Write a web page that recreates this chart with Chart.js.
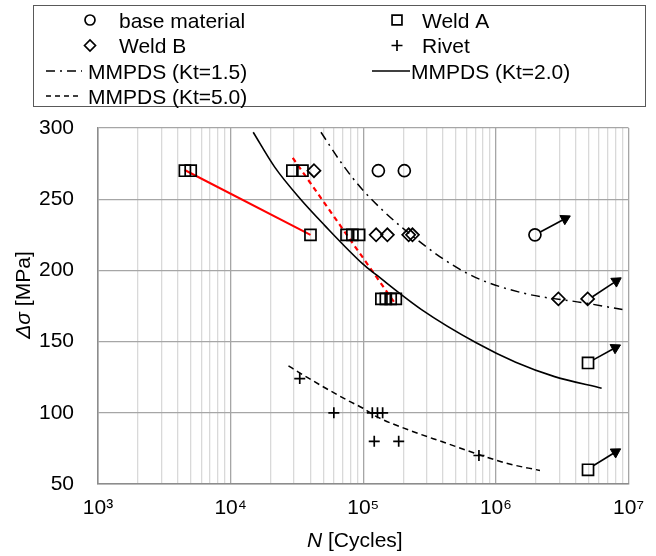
<!DOCTYPE html>
<html>
<head>
<meta charset="utf-8">
<title>S-N data</title>
<script src="https://cdn.jsdelivr.net/npm/chart.js@4"></script>
<style>
  body { margin: 0; background: #fff; }
  #wrap { width: 656px; height: 556px; position: relative; }
</style>
</head>
<body>
<div id="wrap"><canvas id="snChart" width="656" height="556"></canvas></div>
<script>
// test data, N in cycles, stress range in MPa
const baseN = [130000, 204000, 1970000];
const baseS = [270, 270, 225];

const weldAN = [4520, 5000, 29200, 34800, 40000, 74800, 82800, 93100, 137000, 148000, 161000, 176000, 4950000, 4950000];
const weldAS = [270, 270, 270, 270, 225, 225, 225, 225, 180, 180, 180, 180, 135, 60];

const weldBN = [42500, 125000, 152000, 220000, 235000, 2960000, 4920000];
const weldBS = [270, 225, 225, 225, 225, 180, 180];

const rivetN = [33200, 60000, 117000, 128000, 140000, 121000, 185000, 745000];
const rivetS = [124, 100, 100, 100, 100, 80, 80, 70];

// MMPDS curves
const kt15N = [48000, 69000, 98000, 207000, 605000, 1570000, 4860000, 9000000];
const kt15S = [297, 275, 257, 228.3, 198, 184.3, 176.9, 172.5];
const kt20N = [14800, 21500, 33300, 50700, 99600, 125000, 275000, 716000, 1410000, 2770000, 6270000];
const kt20S = [297, 272.5, 250.5, 232, 204.4, 197, 172.5, 149, 135.5, 125.4, 117.3];
const kt50N = [27300, 33200, 75200, 99600, 125000, 219000, 385000, 1190000, 2150000];
const kt50S = [133, 128, 109, 103.2, 97.5, 88, 80, 64.7, 59.5];

// red trend lines
const redSolidN = [4500, 40000];
const redSolidS = [270.5, 225];
const redDashN = [29400, 170000];
const redDashS = [279, 178];

// run-out arrows: [start N, start S, head N, head S, head angle]
const runouts = [
  [2160000, 227, 3320000, 236.3, 62],
  [5350000, 181.5, 8070000, 192.5, 57],
  [5420000, 137.2, 7940000, 145.7, 62],
  [5420000, 62.8, 7980000, 72.5, 59]
];

const decades = [1e3, 1e4, 1e5, 1e6, 1e7];
const decadeLabels = ['10³', '10⁴', '10⁵', '10⁶', '10⁷'];
const yTicks = [50, 100, 150, 200, 250, 300];

const legendLabels = ['base material', 'Weld A', 'Weld B', 'Rivet',
  'MMPDS (Kt=1.5)', 'MMPDS (Kt=2.0)', 'MMPDS (Kt=5.0)'];

const xTickValues = [];
decades.forEach((d, i) => {
  if (i === decades.length - 1) { xTickValues.push(d); return; }
  for (let k = 1; k <= 9; k++) xTickValues.push(d * k);
});

const pts = (xs, ys) => xs.map((x, i) => ({ x: x, y: ys[i] }));
const FONT = '"Liberation Sans", Arial, sans-serif';

function markerSet(label, xs, ys, style, r) {
  return {
    label: label, data: pts(xs, ys), showLine: false,
    pointStyle: style, pointRadius: r, pointHoverRadius: r,
    pointBorderColor: '#000', pointBackgroundColor: 'rgba(0,0,0,0)',
    pointBorderWidth: 1.7, order: 1
  };
}
function curveSet(label, xs, ys, color, dash, w) {
  return {
    label: label, data: pts(xs, ys), showLine: true,
    borderColor: color, borderWidth: w, borderDash: dash,
    pointRadius: 0, cubicInterpolationMode: 'monotone', order: 2
  };
}

const datasets = [
  markerSet('base material', baseN, baseS, 'circle', 6),
  markerSet('Weld A', weldAN, weldAS, 'rect', 7.8),
  markerSet('Weld B', weldBN, weldBS, 'rectRot', 6.5),
  markerSet('Rivet', rivetN, rivetS, 'cross', 5.5),
  curveSet('MMPDS (Kt=1.5)', kt15N, kt15S, '#000', [9, 5, 2, 5], 1.5),
  curveSet('MMPDS (Kt=2.0)', kt20N, kt20S, '#000', [], 1.6),
  curveSet('MMPDS (Kt=5.0)', kt50N, kt50S, '#000', [6, 4], 1.5),
  curveSet('red', redSolidN, redSolidS, '#ff0000', [], 2),
  curveSet('red dashed', redDashN, redDashS, '#ff0000', [5, 4], 2.2)
];

runouts.forEach(a => {
  datasets.push({
    label: 'arrow', data: [{ x: a[0], y: a[1] }, { x: a[2], y: a[3] }],
    showLine: true, borderColor: '#000', borderWidth: 1.6,
    pointStyle: 'triangle', pointRadius: [0, 6], pointRotation: [0, a[4]],
    pointBackgroundColor: '#000', pointBorderColor: '#000', pointBorderWidth: 1,
    order: 0
  });
});

const boxLegend = {
  id: 'boxLegend',
  afterDraw(chart) {
    const ctx = chart.ctx;
    ctx.save();
    ctx.strokeStyle = '#595959';
    ctx.lineWidth = 1;
    ctx.strokeRect(33.5, 5.5, 612, 101);

    ctx.font = '21px ' + FONT;
    ctx.fillStyle = '#000';
    ctx.textBaseline = 'alphabetic';
    const rows = [20, 45.5, 71, 96];

    const sym = (style, r, x, y) => {
      ctx.strokeStyle = '#000';
      ctx.fillStyle = 'rgba(0,0,0,0)';
      ctx.lineWidth = 1.7;
      Chart.helpers.drawPoint(ctx, { pointStyle: style, radius: r, rotation: 0, borderWidth: 1.7 }, x, y);
    };
    const seg = (x1, x2, y, dash) => {
      ctx.strokeStyle = '#000';
      ctx.lineWidth = 1.6;
      ctx.setLineDash(dash);
      ctx.beginPath(); ctx.moveTo(x1, y); ctx.lineTo(x2, y); ctx.stroke();
      ctx.setLineDash([]);
    };

    sym('circle', 5, 90, rows[0]);
    sym('rect', 7, 397, rows[0]);
    sym('rectRot', 5.5, 90, rows[1]);
    sym('cross', 5.5, 397, rows[1]);
    seg(46, 82, rows[2], [9, 5, 2, 5]);
    seg(372, 410, rows[2], []);
    seg(46, 82, rows[3], [5, 4]);

    ctx.fillStyle = '#000';
    ctx.fillText(legendLabels[0], 119, rows[0] + 7.8);
    ctx.fillText(legendLabels[1], 422, rows[0] + 7.8);
    ctx.fillText(legendLabels[2], 119, rows[1] + 7.8);
    ctx.fillText(legendLabels[3], 422, rows[1] + 7.8);
    ctx.fillText(legendLabels[4], 88, rows[2] + 7.8);
    ctx.fillText(legendLabels[5], 411, rows[2] + 7.8);
    ctx.fillText(legendLabels[6], 88, rows[3] + 7.8);

    // axis titles with italic symbols
    ctx.textBaseline = 'middle';
    let x0 = 307;
    ctx.font = 'italic 21px ' + FONT;
    ctx.fillText('N', x0, 541);
    x0 += ctx.measureText('N ').width;
    ctx.font = '21px ' + FONT;
    ctx.fillText('[Cycles]', x0, 541);

    ctx.translate(24, 295);
    ctx.rotate(-Math.PI / 2);
    ctx.font = 'italic 21px ' + FONT;
    const w1 = ctx.measureText('Δσ ').width;
    ctx.font = '21px ' + FONT;
    const w2 = ctx.measureText('[MPa]').width;
    let sx = -(w1 + w2) / 2;
    ctx.font = 'italic 21px ' + FONT;
    ctx.fillText('Δσ', sx, 0);
    ctx.font = '21px ' + FONT;
    ctx.fillText('[MPa]', sx + w1, 0);
    ctx.restore();
  }
};

new Chart(document.getElementById('snChart'), {
  type: 'scatter',
  data: { datasets: datasets },
  options: {
    responsive: false,
    animation: false,
    layout: { padding: { top: 128, right: 14, left: 0, bottom: 0 } },
    plugins: { legend: { display: false }, tooltip: { enabled: false } },
    scales: {
      x: {
        type: 'logarithmic',
        min: 1e3, max: 1e7,
        afterBuildTicks: scale => { scale.ticks = xTickValues.map(v => ({ value: v })); },
        afterFit: scale => { scale.height = 72; },
        ticks: {
          autoSkip: false, maxRotation: 0, padding: 12,
          color: '#000', font: { family: FONT, size: 21 },
          callback: v => {
            const i = decades.indexOf(v);
            return i >= 0 ? decadeLabels[i] : '';
          }
        },
        grid: {
          drawTicks: false,
          color: c => (c.tick && decades.includes(c.tick.value)) ? '#a6a6a6' : '#d9d9d9',
          lineWidth: 1.3
        },
        border: { color: '#8c8c8c', width: 1.5 }
      },
      y: {
        min: 50, max: 300,
        afterBuildTicks: scale => { scale.ticks = yTicks.map(v => ({ value: v })); },
        afterFit: scale => { scale.width = 98; },
        ticks: {
          padding: 24, color: '#000', font: { family: FONT, size: 21 }
        },
        grid: { drawTicks: false, color: '#a6a6a6', lineWidth: 1.3 },
        border: { color: '#8c8c8c', width: 1.5 }
      }
    }
  },
  plugins: [boxLegend]
});
</script>
</body>
</html>
